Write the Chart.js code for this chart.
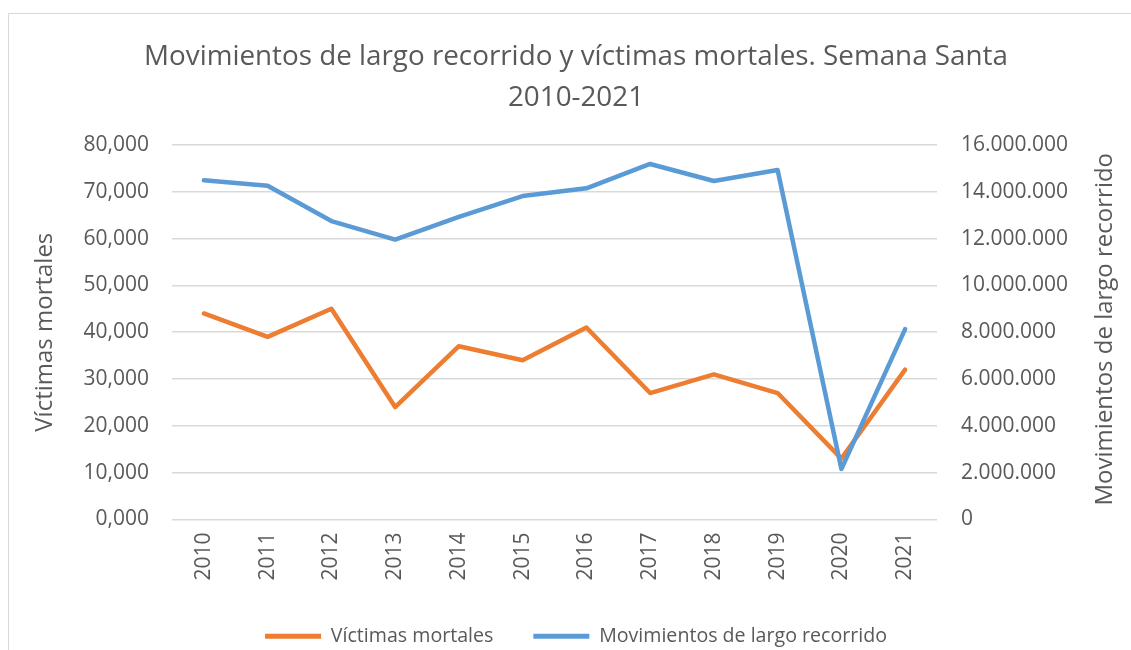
<!DOCTYPE html>
<html>
<head>
<meta charset="utf-8">
<script src="https://cdn.jsdelivr.net/npm/chart.js@4/dist/chart.umd.min.js"></script>
<style>
  html, body { margin: 0; padding: 0; background: #fff; overflow: hidden; }
  #frame { position: absolute; left: 8px; top: 13px; width: 1300px; height: 800px; border: 1px solid #d9d9d9; }
  #wrap { position: absolute; left: 0; top: 0; width: 1131px; height: 656px; }
</style>
</head>
<body>
<div id="frame"></div>
<div id="wrap"><canvas id="chart"></canvas></div>
<script>
// datos
var years = ['2010', '2011', '2012', '2013', '2014', '2015', '2016', '2017', '2018', '2019', '2020', '2021'];
var victimas = [44, 39, 45, 24, 37, 34, 41, 27, 31, 27, 13, 32];
var movimientos = [14490000, 14260000, 12750000, 11960000, 12930000, 13820000, 14150000, 15190000, 14460000, 14930000, 2150000, 8130000];

var gray = '#595959';
var font = 'Open Sans';

// título del eje derecho, leído de abajo arriba como en Excel
var rightTitle = {
  id: 'rightTitle',
  afterDraw: function(chart) {
    var ctx = chart.ctx;
    var area = chart.chartArea;
    ctx.save();
    ctx.translate(1105, (area.top + area.bottom) / 2 - 3);
    ctx.rotate(-Math.PI / 2);
    ctx.font = '24px "' + font + '"';
    ctx.fillStyle = gray;
    ctx.textAlign = 'center';
    ctx.textBaseline = 'middle';
    ctx.fillText('Movimientos de largo recorrido', 0, 0);
    ctx.restore();
  }
};

var ctx = document.getElementById('chart');
var myChart = new Chart(ctx, {
  type: 'line',
  data: {
    labels: years,
    datasets: [
      {
        label: 'Víctimas mortales',
        data: victimas,
        yAxisID: 'y',
        borderColor: '#ED7D31',
        backgroundColor: '#ED7D31',
        borderWidth: 4.5,
        pointRadius: 0,
        tension: 0,
        borderJoinStyle: 'round',
        borderCapStyle: 'round',
        order: 2
      },
      {
        label: 'Movimientos de largo recorrido',
        data: movimientos,
        yAxisID: 'y2',
        borderColor: '#5B9BD5',
        backgroundColor: '#5B9BD5',
        borderWidth: 4.5,
        pointRadius: 0,
        tension: 0,
        borderJoinStyle: 'round',
        borderCapStyle: 'round',
        order: 1
      }
    ]
  },
  options: {
    responsive: true,
    maintainAspectRatio: false,
    animation: false,
    layout: { padding: { left: 21, right: 0, top: 0, bottom: 0 } },
    plugins: {
      tooltip: { enabled: false },
      title: {
        display: true,
        text: ['Movimientos de largo recorrido y víctimas mortales. Semana Santa', '2010-2021'],
        color: gray,
        font: { family: font, size: 27.8, weight: 'normal', lineHeight: 1.475 },
        padding: { top: 37, bottom: 26 }
      },
      legend: {
        position: 'bottom',
        labels: {
          color: gray,
          font: { family: font, size: 19.6 },
          boxWidth: 56,
          boxHeight: 5,
          padding: 40,
          sort: function(a, b) { return a.datasetIndex - b.datasetIndex; },
          generateLabels: function(chart) {
            var items = Chart.defaults.plugins.legend.labels.generateLabels(chart);
            items.forEach(function(it) { it.lineWidth = 0; });
            return items;
          }
        }
      }
    },
    scales: {
      x: {
        offset: true,
        grid: { display: false },
        border: { display: false },
        ticks: {
          color: gray,
          font: { family: font, size: 21 },
          minRotation: 90,
          maxRotation: 90,
          padding: 5
        },
        afterFit: function(scale) { scale.height = 67; }
      },
      y: {
        position: 'left',
        min: 0,
        max: 80,
        grid: { color: '#d9d9d9', lineWidth: 1.5, drawTicks: false },
        border: { display: false },
        ticks: {
          stepSize: 10,
          color: gray,
          font: { family: font, size: 21 },
          padding: 23,
          callback: function(v) { return v.toFixed(3).replace('.', ','); }
        },
        title: {
          display: true,
          text: 'Víctimas mortales',
          color: gray,
          font: { family: font, size: 24 },
          padding: { top: 10, bottom: 0 }
        },
        afterFit: function(scale) { scale.width = 151; }
      },
      y2: {
        position: 'right',
        min: 0,
        max: 16000000,
        grid: { drawOnChartArea: false, drawTicks: false },
        border: { display: false },
        ticks: {
          stepSize: 2000000,
          color: gray,
          font: { family: font, size: 21 },
          padding: 24,
          callback: function(v) { return v.toString().replace(/\B(?=(\d{3})+(?!\d))/g, '.'); }
        },
        afterFit: function(scale) { scale.width = 194; }
      }
    }
  },
  plugins: [rightTitle]
});
</script>
</body>
</html>
